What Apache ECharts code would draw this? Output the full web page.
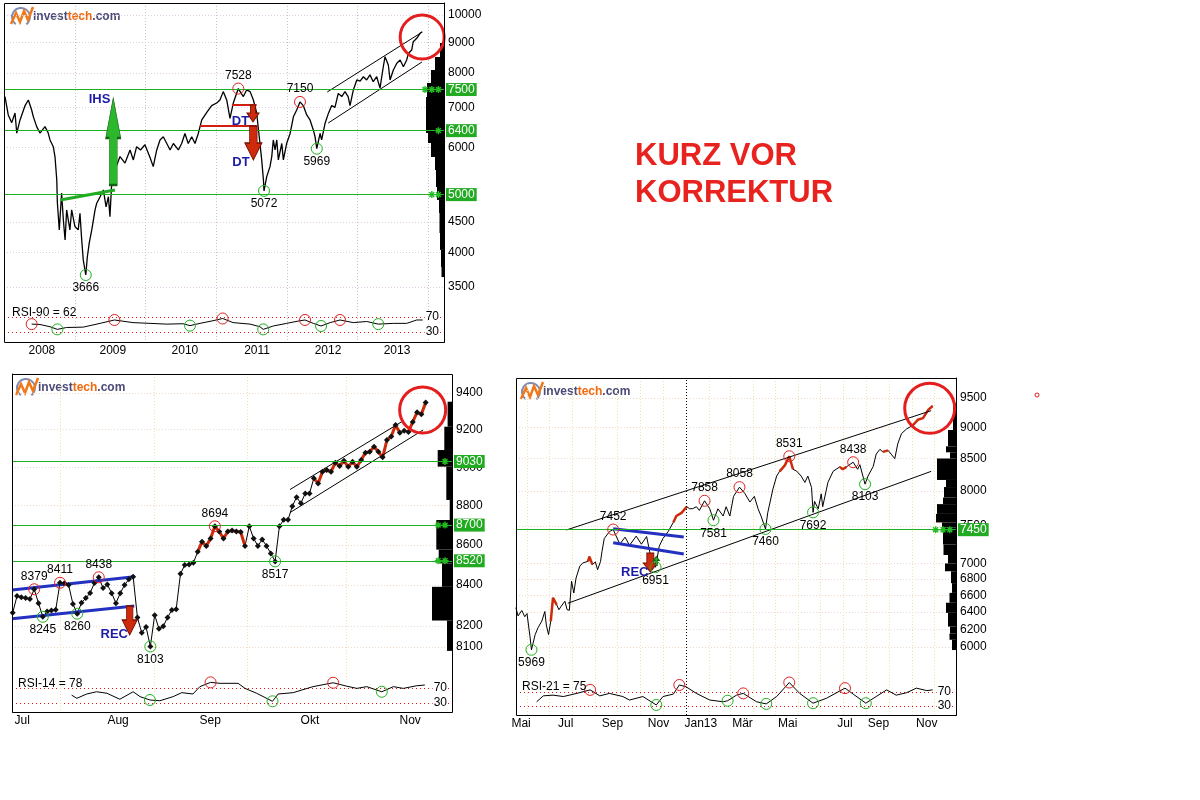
<!DOCTYPE html>
<html><head><meta charset="utf-8">
<script src="https://cdn.jsdelivr.net/npm/echarts@6/dist/echarts.min.js"></script>
<style>html,body{margin:0;padding:0;background:#fff}#c{width:1200px;height:800px}</style>
</head><body><div id="c"></div>
<script>
const F = "'Liberation Sans', Arial, Helvetica, sans-serif";
const D = s => { const p = s.split('-').map(Number); return Date.UTC(p[0], p[1] - 1, p[2]) / 86400000; };

// ---------------- TOP CHART (2008-2013) ----------------
const topDates = ['2008-01-04','2008-01-21','2008-02-08','2008-02-25','2008-03-05','2008-03-22','2008-04-17','2008-05-04','2008-05-21','2008-05-30','2008-06-16','2008-07-03','2008-07-29','2008-08-14','2008-08-24','2008-09-10','2008-09-19','2008-09-28','2008-10-01','2008-10-11','2008-10-23','2008-11-01','2008-11-10','2008-11-18','2008-12-05','2008-12-14','2008-12-31','2009-01-17','2009-01-26','2009-02-04','2009-02-12','2009-02-25','2009-03-05','2009-03-15','2009-03-28','2009-04-14','2009-04-22','2009-05-10','2009-05-27','2009-06-10','2009-06-22','2009-06-30','2009-07-09','2009-07-26','2009-08-21','2009-09-16','2009-10-12','2009-10-29','2009-11-15','2009-12-05','2009-12-28','2010-01-23','2010-02-09','2010-02-27','2010-03-16','2010-04-02','2010-04-20','2010-05-07','2010-05-24','2010-06-19','2010-07-06','2010-07-23','2010-08-09','2010-08-27','2010-09-13','2010-09-30','2010-10-18','2010-11-13','2010-12-08','2011-01-03','2011-01-20','2011-02-06','2011-02-24','2011-03-13','2011-03-30','2011-04-25','2011-05-21','2011-06-07','2011-06-25','2011-07-12','2011-07-29','2011-08-15','2011-08-24','2011-09-02','2011-09-05','2011-09-19','2011-10-06','2011-10-15','2011-10-23','2011-11-01','2011-11-10','2011-11-18','2011-12-06','2011-12-14','2011-12-31','2012-01-18','2012-02-04','2012-02-21','2012-03-09','2012-03-26','2012-04-13','2012-04-30','2012-05-17','2012-05-26','2012-06-04','2012-06-21','2012-06-29','2012-07-17','2012-08-03','2012-08-20','2012-09-06','2012-09-23','2012-10-11','2012-10-28','2012-11-13','2012-11-23','2012-12-10','2012-12-28','2013-01-14','2013-01-31','2013-02-17','2013-03-06','2013-03-23','2013-04-10','2013-04-27','2013-05-14','2013-05-23','2013-06-09','2013-06-18','2013-07-05','2013-07-23','2013-08-09','2013-08-26','2013-09-12','2013-09-21','2013-10-08','2013-10-16','2013-11-03','2013-11-20','2013-12-02'];
const topValues = [7300,6800,6600,6850,6340,6670,7050,7204,6931,6750,6500,6340,6500,6350,6174,6015,5776,5291,4850,4363,5030,4534,4197,4713,4363,4713,4420,4363,4650,4197,3886,3666,3930,4150,4363,4713,4830,4960,5091,4770,4960,4593,5220,5499,5790,5648,5940,5716,6015,5940,6060,5776,5570,5940,6174,6250,6090,5940,6090,5940,6090,6330,6090,6250,6090,6330,6670,6870,7050,7120,7204,7440,7204,6710,7120,7528,7300,7488,7440,7204,6850,6090,5716,5291,5072,5360,5570,5790,6174,5940,6174,5716,6090,5716,6090,6330,6752,6931,7150,7050,6800,6670,6417,6250,5969,6330,6174,6587,6840,7050,7000,7390,7300,7440,7300,7050,7488,7782,7750,7880,7782,7936,7730,7880,7540,8190,8515,8244,7782,8088,8300,8406,8190,8406,8626,8737,9020,9140,9318,9375];
const topRsi = [['2008-05-21',51],['2008-07-03',50],['2008-08-24',44],['2008-10-01',37],['2008-11-18',42],['2009-02-12',43],['2009-05-10',53],['2009-07-23',62],['2009-10-27',55],['2010-01-23',53],['2010-04-20',51],['2010-07-13',52],['2010-08-18',47],['2010-10-09',53],['2010-12-15',60],['2011-02-03',66],['2011-03-29',55],['2011-06-25',51],['2011-08-15',44],['2011-09-01',37],['2011-10-23',46],['2011-12-31',53],['2012-03-09',60],['2012-04-04',62],['2012-05-17',53],['2012-06-26',46],['2012-08-12',55],['2012-10-02',62],['2012-12-10',55],['2013-02-17',58],['2013-04-18',51],['2013-07-05',53],['2013-09-12',53],['2013-11-03',62],['2013-12-04',62]];
const topHighs = [['2011-04-25',7528],['2012-03-09',7150]];
const topLows = [['2009-02-25',3666],['2011-09-05',5072],['2012-06-04',5969]];
const topRsiHighs = [['2008-05-21',51],['2009-07-23',62],['2011-02-03',66],['2012-04-04',62],['2012-10-02',62]];
const topRsiLows = [['2008-10-01',37],['2010-08-18',47],['2011-09-01',37],['2012-06-26',46],['2013-04-18',51]];
const topLevels = [7500, 6400, 5000];
const topYTicks = [3500,4000,4500,6000,7000,8000,9000,10000];
const topXLabelDates = ['2008-07-13','2009-07-15','2010-07-23','2011-07-31','2012-08-01','2013-07-24'];
const topXLabels = ['2008','2009','2010','2011','2012','2013'];
const topYearLines = ['2009-01-01','2010-01-01','2011-01-01','2012-01-01','2013-01-01','2014-01-01'];
const topProfile = [[4,8976,8504],[9,8504,8088],[13,8088,7691],[17,7691,7287],[18,7287,6931],[18,6931,6342],[16,6342,6102],[13,6102,5781],[9,5781,5498],[8,5498,5149],[7,5149,4898],[5,4898,4657],[4.5,4657,4311],[4,4311,4039],[3,4039,3781],[2.5,3781,3637]];
const topChannel = [[['2012-08-02',6591],['2013-11-30',8341]], [['2012-07-28',7429],['2013-11-29',9354]]];
const topDTLines = [[['2011-03-23',7066],['2011-07-29',7066]], [['2010-10-09',6515],['2011-07-29',6515]]];
const topNeck = [['2008-10-16',4898],['2009-07-26',5090]];
const topStars = [['2013-12-16',7500],['2014-01-20',7500],['2014-02-23',7500],['2014-02-23',6400],['2014-01-20',5000],['2014-02-23',5000]];

// ---------------- BOTTOM-LEFT (Jul - Nov 2013, daily) ----------------
const blValues = [8264,8346,8340,8336,8331,8379,8311,8245,8270,8275,8279,8411,8408,8400,8307,8260,8313,8336,8361,8410,8438,8385,8402,8360,8311,8360,8400,8428,8441,8241,8168,8196,8103,8253,8188,8199,8242,8278,8281,8455,8499,8502,8510,8565,8615,8594,8632,8694,8667,8632,8667,8672,8667,8665,8594,8694,8632,8594,8627,8594,8557,8517,8694,8727,8727,8797,8843,8812,8863,8863,8942,8915,8976,8985,8976,9024,9006,9034,9002,9029,9002,9038,9077,9082,9109,9082,9052,9145,9163,9225,9183,9194,9188,9242,9294,9283,9347];
const blRedRanges = [[43,54],[70,86],[87,90],[92,96]];
const blRsi = [[13.7,51],[14.9,42.5],[17.2,54],[19.5,60],[21.9,56],[24.9,40],[28,60],[29.6,47],[31.9,38],[34.2,36],[37.3,47],[39.3,57.6],[41.9,54],[43.5,73.6],[46,85],[48.2,82.5],[52.4,82.5],[54,69],[56.7,56],[60.4,34.5],[61.7,54],[65.2,57.6],[69.8,73.6],[74.5,84],[77.6,75],[80,69],[82.3,73.6],[85.8,60],[88.5,73.6],[90.8,69],[93.9,76],[95.8,78]];
const blHighs = [[5,8379],[11,8411],[20,8438],[47,8694]];
const blLows = [[7,8245],[15,8260],[32,8103],[61,8517]];
const blRsiHighs = [[46,85],[74.5,84]];
const blRsiLows = [[31.9,38],[60.4,34.5],[85.8,60]];
const blLevels = [9030, 8700, 8520];
const blYTicks = [8100,8200,8400,8600,8800,9000,9200,9400];
const blXLabelPos = [2.2, 24.5, 45.9, 69.1, 92.4];
const blXLabels = ['Jul','Aug','Sep','Okt','Nov'];
const blVGrid = [11, 33, 54.5, 77.5];
const blProfile = [[4.4,9352,9216],[7.7,9216,9091],[14.3,9091,9003],[5.7,9003,8829],[2.3,8829,8726],[15.7,8726,8576],[13.3,8576,8507],[10,8507,8391],[20,8391,8227],[5,8227,8082]];
const blChannel = [[[64.46,8883],[90.73,9247]], [[64.46,8764],[95.38,9198]]];
const blBlue = [[[-0.16,8375],[28.27,8441]], [[-0.16,8236],[28.27,8297]]];
const blStars = [[100.5,9030],[98.9,8700],[100.5,8700],[98.9,8520],[100.5,8520]];

// ---------------- BOTTOM-RIGHT (Mai 2012 - Nov 2013) ----------------
const brSeries = [['2012-05-17',6451],['2012-05-20',6354],['2012-05-25',6418],['2012-05-29',6344],['2012-06-01',6382],['2012-06-05',6120],['2012-06-07',5969],['2012-06-12',6138],['2012-06-16',6220],['2012-06-21',6294],['2012-06-25',6406],['2012-06-27',6248],['2012-06-30',6138],['2012-07-03',6294],['2012-07-06',6570],['2012-07-11',6484],['2012-07-14',6427],['2012-07-17',6468],['2012-07-22',6528],['2012-07-25',6427],['2012-07-28',6420],['2012-07-31',6774],['2012-08-03',6628],['2012-08-06',6814],['2012-08-11',6964],['2012-08-15',7006],['2012-08-22',7027],['2012-08-24',7087],['2012-08-28',6985],['2012-09-01',7020],['2012-09-04',6919],['2012-09-08',7027],['2012-09-10',7160],['2012-09-13',7330],['2012-09-20',7424],['2012-09-25',7452],['2012-10-04',7253],['2012-10-11',7348],['2012-10-17',7238],['2012-10-26',7362],['2012-11-02',7253],['2012-11-09',7357],['2012-11-13',7160],['2012-11-16',7006],['2012-11-21',6951],['2012-11-26',7226],['2012-12-01',7330],['2012-12-08',7424],['2012-12-15',7553],['2012-12-19',7640],['2012-12-26',7685],['2013-01-02',7773],['2013-01-06',7743],['2013-01-10',7745],['2013-01-15',7773],['2013-01-19',7720],['2013-01-26',7858],['2013-02-02',7743],['2013-02-07',7581],['2013-02-13',7743],['2013-02-20',7640],['2013-02-24',7773],['2013-03-01',7640],['2013-03-06',7923],['2013-03-14',8058],['2013-03-21',7968],['2013-03-28',7840],['2013-04-03',7923],['2013-04-08',7743],['2013-04-12',7640],['2013-04-18',7460],['2013-04-21',7685],['2013-04-28',8031],['2013-05-03',8225],['2013-05-07',8297],['2013-05-14',8389],['2013-05-20',8531],['2013-05-25',8329],['2013-05-30',8300],['2013-06-05',8225],['2013-06-10',8129],['2013-06-14',8225],['2013-06-19',8051],['2013-06-21',7692],['2013-06-23',7850],['2013-06-28',7743],['2013-07-02',7960],['2013-07-04',7773],['2013-07-11',8129],['2013-07-18',8297],['2013-07-27',8366],['2013-07-31',8329],['2013-08-05',8366],['2013-08-14',8438],['2013-08-20',8329],['2013-08-23',8400],['2013-08-30',8103],['2013-09-03',8225],['2013-09-10',8373],['2013-09-14',8566],['2013-09-19',8641],['2013-09-23',8600],['2013-09-30',8625],['2013-10-04',8566],['2013-10-09',8494],['2013-10-13',8728],['2013-10-18',8895],['2013-10-25',8974],['2013-11-02',9030],['2013-11-09',9125],['2013-11-16',9154],['2013-11-23',9293],['2013-11-29',9361]];
const brRedRanges = [['2012-07-03','2012-07-11'],['2012-08-22','2012-08-28'],['2012-12-15','2013-01-02'],['2013-05-07','2013-05-25'],['2013-07-27','2013-08-05'],['2013-09-23','2013-09-30'],['2013-11-02','2013-11-29']];
const brRsi = [['2012-06-14',42],['2012-06-23',59],['2012-07-06',61],['2012-07-20',57],['2012-08-07',66],['2012-08-25',76],['2012-09-07',59],['2012-09-20',66],['2012-10-08',57],['2012-10-17',47],['2012-11-04',57],['2012-11-22',33],['2012-12-01',57],['2012-12-15',64],['2012-12-23',90],['2013-01-01',85],['2013-01-15',66],['2013-02-02',47],['2013-02-20',42],['2013-02-26',45],['2013-03-10',61],['2013-03-19',66],['2013-04-06',42],['2013-04-19',36],['2013-05-03',57],['2013-05-20',97],['2013-06-03',66],['2013-06-21',38],['2013-07-09',52],['2013-08-03',81],['2013-08-14',64],['2013-08-31',38],['2013-09-14',57],['2013-09-28',76],['2013-10-11',61],['2013-10-25',68],['2013-11-07',81],['2013-11-21',74],['2013-11-29',76]];
const brHighs = [['2012-09-25',7452],['2013-01-26',7858],['2013-03-14',8058],['2013-05-20',8531],['2013-08-14',8438]];
const brLows = [['2012-06-07',5969],['2012-11-21',6951],['2013-02-07',7581],['2013-04-18',7460],['2013-06-21',7692],['2013-08-30',8103]];
const brRsiHighs = [['2012-08-25',76],['2012-12-23',90],['2013-03-19',66],['2013-05-20',97],['2013-08-03',81]];
const brRsiLows = [['2012-11-22',33],['2013-02-26',45],['2013-04-19',36],['2013-06-21',38],['2013-08-31',38]];
const brLevels = [7450];
const brYTicks = [6000,6200,6400,6600,6800,7000,7500,8000,8500,9000,9500];
const brXLabelDates = ['2012-05-24','2012-07-23','2012-09-24','2012-11-25','2013-01-21','2013-03-18','2013-05-18','2013-08-03','2013-09-17','2013-11-21'];
const brXLabels = ['Mai','Jul','Sep','Nov','Jan13','Mär','Mai','Jul','Sep','Nov'];
const brMonthLines = ['2012-06-01','2012-07-01','2012-08-01','2012-09-01','2012-10-01','2012-11-01','2012-12-01','2013-02-01','2013-03-01','2013-04-01','2013-05-01','2013-06-01','2013-07-01','2013-08-01','2013-09-01','2013-10-01','2013-11-01','2013-12-01'];
const brYearLine = '2013-01-01';
const brProfile = [[3,9408,8955],[8,8955,8689],[10,8689,8594],[6,8594,8496],[19,8496,8166],[10,8166,8060],[12,8060,7905],[13,7905,7810],[19,7810,7670],[20,7670,7550],[14,7550,7480],[13,7480,7250],[12.5,7250,7110],[8,7110,7000],[11,7000,6900],[5,6900,6750],[4,6750,6630],[6.5,6630,6510],[10,6510,6390],[8,6390,6230],[6,6230,6150],[6.5,6150,6080],[4,6080,5966]];
const brChannel = [[['2012-07-24',7446],['2013-11-27',9280]], [['2012-07-26',6504],['2013-11-27',8297]]];
const brBlue = [[['2012-09-25',7462],['2012-12-29',7351]], [['2012-09-25',7273],['2012-12-29',7122]]];
const brStars = [['2013-12-03',7450],['2013-12-13',7450],['2013-12-22',7450]];

// ---------------- axis ranges ----------------
const TOP_MIN = D('2008-01-01') - 2, TOP_MAX = TOP_MIN + 2276;
const BL_MIN = -0.163, BL_MAX = 102.12;
const BR_MIN = D('2013-01-01') - 228.8, BR_MAX = BR_MIN + 592.2;

// ---------------- helpers ----------------
const STAR = 'path://M5,0L5,10M0,5L10,5M1.5,1.5L8.5,8.5M8.5,1.5L1.5,8.5';
function xHidden(g, min, max, gridVals, color) {
  return {type:'value', gridIndex:g, min, max, axisLine:{show:false}, axisTick:{show:false, customValues:gridVals},
    axisLabel:{show:false}, splitLine:{show:true, lineStyle:{color, type:[1,2], width:1}}};
}
function xLabeled(g, min, max, gridVals, color, labVals, labTexts) {
  const map = {}; labVals.forEach((v,i)=>{ map[Number(v).toFixed(3)] = labTexts[i]; });
  return {type:'value', gridIndex:g, min, max, axisLine:{show:false}, axisTick:{show:false, customValues:gridVals},
    axisLabel:{customValues:labVals, formatter:v=>map[Number(v).toFixed(3)] || '', color:'#000', fontSize:12, fontFamily:F, margin:3},
    splitLine:{show:true, lineStyle:{color, type:[1,2], width:1}}};
}
function xProfile(g) { return {type:'value', gridIndex:g, min:0, max:100, inverse:true, show:false, splitLine:{show:false}}; }
function yLog(g, min, max, ticks, color) {
  return {type:'log', gridIndex:g, position:'right', min, max, logBase:10,
    axisLine:{show:true, lineStyle:{color:'#000', width:1}}, axisTick:{show:false, customValues:ticks},
    axisLabel:{customValues:ticks, formatter:v=>String(Math.round(v)), color:'#000', fontSize:12, fontFamily:F, margin:4},
    splitLine:{show:true, lineStyle:{color, type:[1,2], width:1}}};
}
function yLogHidden(g, min, max) { return {type:'log', gridIndex:g, min, max, logBase:10, show:false, splitLine:{show:false}}; }
function yRsi(g, min, max) {
  return {type:'value', gridIndex:g, position:'right', min, max,
    axisLine:{show:true, lineStyle:{color:'#000'}}, axisTick:{show:false, customValues:[30,70]},
    axisLabel:{inside:true, customValues:[30,70], color:'#000', fontSize:12, fontFamily:F, margin:4, backgroundColor:'#fff', padding:[0,1]},
    splitLine:{show:true, lineStyle:{color:'#e01010', type:[1,3], width:1}}};
}
function profileSeries(xi, yi, bins) {
  return {type:'custom', xAxisIndex:xi, yAxisIndex:yi, z:1, silent:true, encode:{x:0, y:[1,2]}, data:bins,
    renderItem:(params, api)=>{
      const a = api.coord([0, api.value(1)]), b = api.coord([api.value(0), api.value(2)]);
      return {type:'rect', shape:{x:Math.min(a[0],b[0]), y:Math.min(a[1],b[1]), width:Math.abs(b[0]-a[0]), height:Math.abs(b[1]-a[1])}, style:{fill:'#000'}};
    }};
}
function seg(xi, yi, pts, color, width, z) {
  return {type:'line', xAxisIndex:xi, yAxisIndex:yi, data:pts, symbol:'none', silent:true, lineStyle:{color, width}, z:z||4};
}
function circles(xi, yi, pts, color, pos, showLabel) {
  return {type:'scatter', xAxisIndex:xi, yAxisIndex:yi, symbol:'circle', symbolSize:11, z:6, silent:true,
    itemStyle:{color:'rgba(0,0,0,0)', borderColor:color, borderWidth:1, opacity:1},
    label:{show:showLabel, position:pos, distance:1, formatter:p=>String(p.value[1]), color:'#000', fontSize:12, fontFamily:F},
    data:pts};
}
function bigCircle(xi, yi, pt, size) {
  return {type:'scatter', xAxisIndex:xi, yAxisIndex:yi, symbol:'circle', symbolSize:size, z:7, silent:true,
    itemStyle:{color:'rgba(0,0,0,0)', borderColor:'#e41e1e', borderWidth:3, opacity:1}, data:[pt]};
}
function stars(xi, yi, pts) {
  return {type:'scatter', xAxisIndex:xi, yAxisIndex:yi, symbol:STAR, symbolSize:7, z:8, silent:true,
    itemStyle:{color:'rgba(0,0,0,0)', borderColor:'#22bb22', borderWidth:1.4, opacity:1}, data:pts};
}
function texts(xi, yi, items) {
  return {type:'scatter', xAxisIndex:xi, yAxisIndex:yi, symbol:'circle', symbolSize:1, z:9, silent:true,
    itemStyle:{color:'rgba(0,0,0,0)', opacity:1},
    label:{show:true, position:'inside', formatter:p=>p.name, color:'#1c1ca8', fontSize:13, fontWeight:'bold', fontFamily:F},
    data:items};
}
function arrows(xi, yi, items) {
  return {type:'scatter', xAxisIndex:xi, yAxisIndex:yi, z:5, silent:true, itemStyle:{opacity:1}, data:items};
}
function levelLines(levels, extra) {
  return {silent:true, symbol:['none','none'], animation:false,
    lineStyle:{color:'#1eb01e', width:1, type:'solid', opacity:1},
    label:{position:'end', formatter:p=>String(p.value), color:'#fff', backgroundColor:'#22aa22', padding:[1,2,0,2], fontSize:12, fontFamily:F, distance:2},
    data:levels.map(v=>({yAxis:v})).concat(extra||[])};
}

// ---------------- derived data ----------------
const topData = topDates.map((d,i)=>[D(d), topValues[i]]);
const dd = arr => arr.map(p=>[D(p[0]), p[1]]);
const blData = blValues.map((v,i)=>[i, v]);
const blRed = blData.map((p,i)=> blRedRanges.some(r=> i>=r[0] && i<=r[1]) ? p : [i, null]);
const brData = dd(brSeries);
const brRed = brData.map(p=> brRedRanges.some(r=> p[0]>=D(r[0]) && p[0]<=D(r[1])) ? p : [p[0], null]);

const DOWN_S = 'path://M3.5,0L8.5,0L8.5,8L12,8L6,17L0,8L3.5,8Z';
const DOWN_L = 'path://M4.7,0L12.2,0L12.2,17L17,17L8.5,34L0,17L4.7,17Z';
const DOWN_M = 'path://M4.3,0L10.7,0L10.7,14L15,14L7.5,29L0,14L4.3,14Z';
const DOWN_R = 'path://M3.5,0L10.5,0L10.5,10L14,10L7,19L0,10L3.5,10Z';
const UP_L = 'path://M7.5,0L15,40L11.5,40L11.5,87L3.5,87L3.5,40L0,40Z';
const UP_S = 'path://M3,0L6,4L4,4L4,9L2,9L2,4L0,4Z';
const redArrow = {color:'#d02a0c', borderColor:'#701000', borderWidth:1, opacity:1};
const greenArrow = {color:'#2cb82c', borderColor:'#146014', borderWidth:1, opacity:1};

const series = [
  // ---- top ----
  profileSeries(2, 2, topProfile),
  {type:'line', xAxisIndex:0, yAxisIndex:0, data:topData, symbol:'none', silent:true, z:3,
    lineStyle:{color:'#000', width:1.3}, markLine:levelLines(topLevels)},
  ...topChannel.map(s=>seg(0,0,dd(s),'#000',1,4)),
  ...topDTLines.map(s=>seg(0,0,dd(s),'#d01e10',2,4)),
  seg(0,0,dd(topNeck),'#22aa22',3,4),
  arrows(0,0,[
    {value:[D('2009-07-17'),6137], symbol:UP_L, symbolSize:[15,87], itemStyle:greenArrow},
    {value:[D('2011-07-10'),6838], symbol:DOWN_S, symbolSize:[12,17], itemStyle:redArrow},
    {value:[D('2011-07-12'),6102], symbol:DOWN_L, symbolSize:[17,34], itemStyle:redArrow}
  ]),
  circles(0,0,dd(topHighs).map(p=>({value:p, label:{position:'top'}})),'#e02020','top',true),
  circles(0,0,dd(topLows).map(p=>({value:p, label:{position:'bottom'}})),'#20b020','bottom',true),
  texts(0,0,[{name:'IHS', value:[D('2009-05-07'),7217]},{name:'DT', value:[D('2011-05-06'),6630]},{name:'DT', value:[D('2011-05-09'),5670]}]),
  stars(0,0,dd(topStars)),
  bigCircle(0,0,[D('2013-12-01'),9186],44),
  {type:'line', xAxisIndex:1, yAxisIndex:1, data:dd(topRsi), symbol:'none', silent:true, lineStyle:{color:'#000', width:1}, z:3},
  circles(1,1,dd(topRsiHighs),'#e02020','top',false),
  circles(1,1,dd(topRsiLows),'#20b020','bottom',false),

  // ---- bottom-left ----
  profileSeries(5, 5, blProfile),
  {type:'line', xAxisIndex:3, yAxisIndex:3, data:blData, symbol:'none', silent:true, z:2,
    lineStyle:{color:'#000', width:1}, markLine:levelLines(blLevels)},
  {type:'line', xAxisIndex:3, yAxisIndex:3, data:blRed, symbol:'none', silent:true, z:3, connectNulls:false,
    lineStyle:{color:'#cc2a0a', width:3}},
  {type:'scatter', xAxisIndex:3, yAxisIndex:3, data:blData, symbol:'diamond', symbolSize:6, silent:true, z:4, itemStyle:{color:'#111', opacity:1}},
  ...blChannel.map(s=>seg(3,3,s,'#000',1,4)),
  ...blBlue.map(s=>seg(3,3,s,'#2431c0',3,4)),
  arrows(3,3,[{value:[27.2,8227], symbol:DOWN_M, symbolSize:[15,29], itemStyle:redArrow}]),
  circles(3,3,blHighs,'#e02020','top',true),
  circles(3,3,blLows,'#20b020','bottom',true),
  texts(3,3,[{name:'REC', value:[23.6,8162]}]),
  stars(3,3,blStars),
  bigCircle(3,3,[95.3,9307],46),
  {type:'line', xAxisIndex:4, yAxisIndex:4, data:blRsi, symbol:'none', silent:true, lineStyle:{color:'#000', width:1}, z:3},
  circles(4,4,blRsiHighs,'#e02020','top',false),
  circles(4,4,blRsiLows,'#20b020','bottom',false),

  // ---- bottom-right ----
  profileSeries(8, 8, brProfile),
  {type:'line', xAxisIndex:6, yAxisIndex:6, data:brData, symbol:'none', silent:true, z:2,
    lineStyle:{color:'#000', width:1},
    markLine:levelLines(brLevels, [{xAxis:D(brYearLine), lineStyle:{color:'#000', type:[1,2], width:1}, label:{show:false}}])},
  {type:'line', xAxisIndex:6, yAxisIndex:6, data:brRed, symbol:'none', silent:true, z:3, connectNulls:false,
    lineStyle:{color:'#cc2a0a', width:2.5}},
  ...brChannel.map(s=>seg(6,6,dd(s),'#000',1,4)),
  ...brBlue.map(s=>seg(6,6,dd(s),'#2431c0',3,4)),
  arrows(6,6,[
    {value:[D('2012-11-14'),7012], symbol:DOWN_R, symbolSize:[14,19], itemStyle:redArrow},
    {value:[D('2012-11-22'),7032], symbol:UP_S, symbolSize:[6,9], itemStyle:greenArrow}
  ]),
  circles(6,6,dd(brHighs),'#e02020','top',true),
  circles(6,6,dd(brLows),'#20b020','bottom',true),
  texts(6,6,[{name:'REC', value:[D('2012-10-24'),6890]}]),
  stars(6,6,dd(brStars)),
  bigCircle(6,6,[D('2013-11-25'),9321],50),
  {type:'line', xAxisIndex:7, yAxisIndex:7, data:dd(brRsi), symbol:'none', silent:true, lineStyle:{color:'#000', width:1}, z:3,
    markLine:{silent:true, symbol:['none','none'], label:{show:false}, lineStyle:{color:'#000', type:[1,2], width:1}, data:[{xAxis:D(brYearLine)}]}},
  circles(7,7,dd(brRsiHighs),'#e02020','top',false),
  circles(7,7,dd(brRsiLows),'#20b020','bottom',false)
];

function logo(x, y) {
  return [
    {type:'arc', shape:{cx:x+11, cy:y+10, r:9, startAngle:Math.PI*0.7, endAngle:Math.PI*2.3}, style:{stroke:'#7f8db5', lineWidth:2, fill:null}},
    {type:'polyline', shape:{points:[[x+1,y+17],[x+6,y+6],[x+10,y+15],[x+14,y+4],[x+18,y+13],[x+23,y+0]]}, style:{stroke:'#f07818', lineWidth:2.5, fill:null}},
    {type:'text', x:x+23, y:y+10, style:{text:'{a|invest}{b|tech}{a|.com}', verticalAlign:'middle',
      rich:{a:{fill:'#4b4b78', fontSize:12, fontWeight:'bold', fontFamily:F}, b:{fill:'#f06a10', fontSize:12, fontWeight:'bold', fontFamily:F}}}}
  ];
}

const option = {
  animation:false,
  backgroundColor:'#fff',
  grid:[
    {left:4, top:3, width:440, height:297},
    {left:4, top:300, width:440, height:42},
    {left:344, top:3, width:100, height:297},
    {left:12, top:374, width:440, height:296},
    {left:12, top:670, width:440, height:42},
    {left:352, top:374, width:100, height:296},
    {left:516, top:378, width:440, height:294},
    {left:516, top:672, width:440, height:43},
    {left:856, top:378, width:100, height:294}
  ],
  xAxis:[
    xHidden(0, TOP_MIN, TOP_MAX, topYearLines.map(D), '#c4c4c4'),
    xLabeled(1, TOP_MIN, TOP_MAX, topYearLines.map(D), '#c4c4c4', topXLabelDates.map(D), topXLabels),
    xProfile(2),
    xHidden(3, BL_MIN, BL_MAX, blVGrid, '#efe3a6'),
    xLabeled(4, BL_MIN, BL_MAX, blVGrid, '#efe3a6', blXLabelPos, blXLabels),
    xProfile(5),
    xHidden(6, BR_MIN, BR_MAX, brMonthLines.map(D), '#efe3a6'),
    xLabeled(7, BR_MIN, BR_MAX, brMonthLines.map(D), '#efe3a6', brXLabelDates.map(D), brXLabels),
    xProfile(8)
  ],
  yAxis:[
    yLog(0, 3329, 10474, topYTicks, '#e4cce4'),
    yRsi(1, 3.33, 115.33),
    yLogHidden(2, 3329, 10474),
    yLog(3, 7992, 9505, blYTicks, '#efd9c8'),
    yRsi(4, 6, 118),
    yLogHidden(5, 7992, 9505),
    yLog(6, 5729, 9857, brYTicks, '#efd9c8'),
    yRsi(7, 4.29, 127.1),
    yLogHidden(8, 5729, 9857)
  ],
  series,
  graphic:[
    {type:'rect', z:100, silent:true, shape:{x:4.5, y:3.5, width:440, height:339}, style:{fill:null, stroke:'#000', lineWidth:1}},
    {type:'rect', z:100, silent:true, shape:{x:12.5, y:374.5, width:440, height:338}, style:{fill:null, stroke:'#000', lineWidth:1}},
    {type:'rect', z:100, silent:true, shape:{x:516.5, y:378.5, width:440, height:337}, style:{fill:null, stroke:'#000', lineWidth:1}},
    ...logo(10, 7), ...logo(15, 378), ...logo(520, 382),
    {type:'text', x:12, y:313, z:100, style:{text:'RSI-90 = 62', fill:'#000', fontSize:12, fontFamily:F, verticalAlign:'middle'}},
    {type:'text', x:18, y:684, z:100, style:{text:'RSI-14 = 78', fill:'#000', fontSize:12, fontFamily:F, verticalAlign:'middle'}},
    {type:'text', x:522, y:687, z:100, style:{text:'RSI-21 = 75', fill:'#000', fontSize:12, fontFamily:F, verticalAlign:'middle'}},
    {type:'text', x:635, y:138, z:100, style:{text:'KURZ VOR\nKORREKTUR', fill:'#e8231f', fontSize:31, fontWeight:'bold', fontFamily:F, lineHeight:37, verticalAlign:'top'}},
    {type:'circle', z:100, silent:true, shape:{cx:1037, cy:395, r:2}, style:{fill:null, stroke:'#e02020', lineWidth:1}}
  ]
};
const chart = echarts.init(document.getElementById('c'), null, {renderer:'canvas'});
chart.setOption(option);
</script></body></html>
